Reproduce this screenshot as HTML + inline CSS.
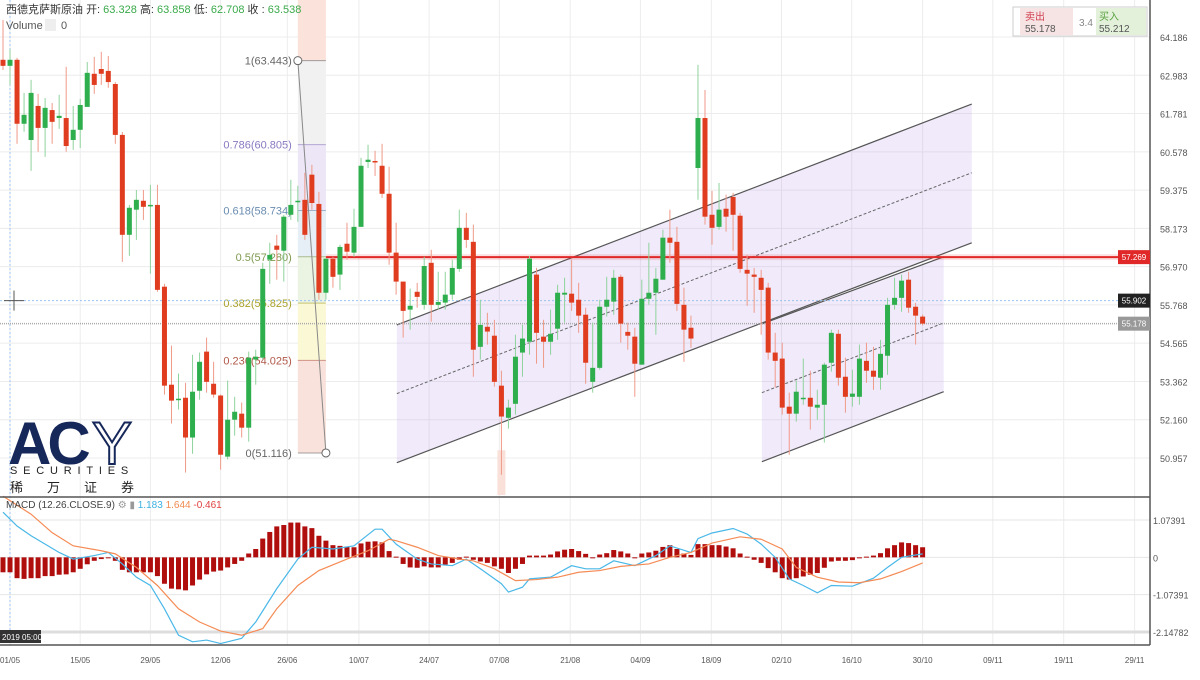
<!DOCTYPE html>
<html><head><meta charset="utf-8">
<style>
html,body{margin:0;padding:0;background:#fff;}
body{width:1200px;height:675px;overflow:hidden;font-family:"Liberation Sans","Noto Sans CJK SC",sans-serif;}
svg text{font-family:"Liberation Sans","Noto Sans CJK SC",sans-serif;}
</style></head>
<body>
<svg id="chart" width="1200" height="675" viewBox="0 0 1200 675" xmlns="http://www.w3.org/2000/svg">
<g id="grid"></g>
<g id="drawings"></g>
<g id="candles"></g>
<g id="macd"></g>
<g id="axes"></g>
<g>
 <text x="8" y="464" font-size="60" font-weight="bold" fill="#16275a" letter-spacing="-4">AC</text>
 <text x="92" y="464" font-size="60" fill="none" stroke="#16275a" stroke-width="2">Y</text>
 <text x="10" y="474" font-size="11" fill="#222" letter-spacing="5.8">SECURITIES</text>
 <text x="10" y="492" font-size="13" fill="#222" letter-spacing="24">稀万证券</text>
</g>
<g>
 <text x="6" y="13" font-size="11" fill="#333">西德克萨斯原油 <tspan fill="#333">开:</tspan><tspan fill="#3aaa4a"> 63.328 </tspan><tspan>高:</tspan><tspan fill="#3aaa4a"> 63.858 </tspan><tspan>低:</tspan><tspan fill="#3aaa4a"> 62.708 </tspan><tspan>收 :</tspan><tspan fill="#3aaa4a"> 63.538</tspan></text>
 <text x="6" y="29" font-size="11" fill="#555">Volume</text>
 <rect x="45" y="19" width="11" height="12" fill="#eee"/>
 <text x="61" y="29" font-size="11" fill="#555">0</text>
 <text x="6" y="508" font-size="10" fill="#444">MACD (12.26.CLOSE.9) <tspan fill="#999">⚙ ▮</tspan> <tspan fill="#3ab0e0">1.183</tspan> <tspan fill="#f08a50">1.644</tspan> <tspan fill="#e04040">-0.461</tspan></text>
</g>
<g>
 <rect x="1013" y="7" width="134" height="29" fill="#fff" stroke="#ccc"/>
 <rect x="1020" y="8" width="53" height="27" fill="#f6e4e4"/>
 <rect x="1096" y="8" width="50" height="27" fill="#e3f1da"/>
 <text x="1025" y="20" font-size="10" fill="#d04050">卖出</text>
 <text x="1025" y="32" font-size="10" fill="#555">55.178</text>
 <text x="1079" y="26" font-size="10" fill="#888">3.4</text>
 <text x="1099" y="20" font-size="10" fill="#5aa040">买入</text>
 <text x="1099" y="32" font-size="10" fill="#555">55.212</text>
</g>
</svg>
<script>
const priceTicks=[64.186,62.983,61.781,60.578,59.375,58.173,56.970,55.768,54.565,53.362,52.160,50.957];
const macdTicks=[1.07391,0,-1.07391,-2.14782];
const dateLabels=["01/05","15/05","29/05","12/06","26/06","10/07","24/07","07/08","21/08","04/09","18/09","02/10","16/10","30/10","09/11","19/11","29/11"];
const dateIdx=[1,11,21,31,40.5,50.7,60.7,70.7,80.8,90.8,100.9,110.9,120.9,131,141,151.1,161.2];
const opens=[63.47,63.28,63.47,61.46,60.95,62.02,61.33,61.89,61.64,61.64,60.95,61.27,61.99,63.03,63.18,63.12,62.71,61.11,57.97,58.76,59.04,58.88,58.91,56.34,53.26,52.79,52.85,51.60,53.07,54.30,53.29,52.92,51.00,52.16,52.35,51.91,54.05,54.11,57.19,57.63,57.47,58.60,59.01,59.07,59.86,58.94,56.15,57.22,56.72,57.69,57.41,58.22,60.26,60.29,60.14,59.26,57.41,56.50,55.62,56.18,55.77,57.09,55.77,55.84,56.09,56.90,58.19,57.75,54.45,55.08,54.80,53.23,52.22,52.66,54.27,54.61,56.72,54.77,54.61,55.02,56.09,56.12,55.93,55.46,53.35,53.79,55.71,55.87,56.65,54.92,54.77,53.89,55.96,56.15,56.56,57.88,57.75,55.77,55.05,60.07,61.64,58.60,58.22,58.79,59.16,58.57,56.87,56.72,56.62,56.31,54.27,54.08,52.57,52.35,52.82,52.85,52.54,52.63,53.95,54.86,53.51,52.88,52.88,54.01,53.70,53.48,54.17,55.77,55.99,56.56,55.71,55.40];
const highs=[64.72,63.81,63.53,62.43,62.84,62.40,62.27,62.11,62.37,63.25,62.02,62.24,63.40,63.56,63.72,63.59,62.77,61.20,58.91,59.38,59.38,59.54,59.54,56.43,54.49,53.61,53.32,54.20,54.27,54.74,53.98,52.95,53.39,52.88,52.70,54.30,54.36,57.09,57.72,57.97,58.60,59.70,59.51,59.92,60.17,59.32,57.22,57.28,57.66,58.35,58.79,60.39,60.80,60.61,60.83,60.11,58.35,56.46,56.28,56.46,57.28,57.50,56.81,56.81,57.19,58.76,58.66,58.29,55.93,55.52,55.30,53.70,52.79,54.83,55.14,57.31,56.93,55.30,55.62,56.40,56.62,57.19,56.46,55.68,55.21,55.93,56.65,56.87,56.72,55.21,55.05,56.56,57.72,56.93,58.13,58.76,58.22,56.31,55.43,63.31,62.52,59.35,59.60,59.23,59.29,58.66,57.34,56.93,56.87,56.46,54.89,54.58,53.01,53.39,54.08,53.70,53.10,53.95,54.99,54.99,54.11,53.73,54.52,54.58,54.45,54.67,55.99,56.62,56.72,56.81,55.83,55.46];
const lows=[63.15,62.68,60.83,61.21,59.98,60.58,60.42,60.83,61.30,60.58,60.64,60.70,61.99,62.40,62.68,62.59,60.83,57.12,57.31,57.81,58.44,56.75,56.18,52.95,52.04,52.48,50.50,51.09,52.79,53.01,52.85,50.59,50.91,51.66,51.60,51.47,53.26,54.05,56.43,56.56,56.50,58.44,58.38,57.81,58.76,55.93,55.93,56.31,56.24,57.19,57.28,58.22,60.07,59.82,59.13,57.03,56.09,54.74,54.99,55.68,55.62,55.24,55.62,55.62,55.93,56.81,57.56,53.51,54.05,54.52,53.20,50.43,51.88,52.32,53.51,54.20,53.92,53.79,54.20,54.67,55.21,55.58,54.89,53.29,53.01,53.73,55.40,55.46,54.58,54.36,52.88,53.89,55.77,54.83,56.56,57.09,55.58,53.98,54.42,59.07,58.29,57.66,58.13,58.07,57.47,56.78,55.74,55.52,54.83,54.05,53.17,52.32,51.06,52.10,52.63,51.85,52.16,51.44,53.67,53.23,52.38,52.57,52.63,53.32,53.10,53.10,53.57,55.62,55.55,55.52,54.52,55.12];
const closes=[63.28,63.47,61.46,61.74,62.43,61.33,61.96,61.52,61.71,60.76,61.27,62.05,63.06,62.68,63.03,62.77,61.11,57.97,58.82,59.07,58.85,58.91,56.24,53.23,52.76,52.82,51.60,53.04,53.98,53.35,52.95,51.06,52.16,52.41,51.91,54.11,54.14,56.90,57.34,57.50,58.54,58.91,59.04,57.97,58.97,56.15,57.22,56.65,57.59,57.44,58.22,60.14,60.33,60.26,59.26,57.41,56.50,55.58,55.74,56.02,56.99,55.77,55.86,56.09,56.93,58.19,57.81,54.36,55.14,54.93,53.35,52.26,52.54,54.14,54.71,57.22,54.89,54.61,54.86,56.15,56.15,55.84,55.43,53.95,53.79,55.71,55.93,56.62,55.18,54.80,53.92,55.96,56.15,56.59,57.88,57.72,55.80,54.99,54.71,61.64,58.54,58.19,58.76,58.54,58.60,56.90,56.75,56.65,56.24,54.27,54.01,52.54,52.35,53.04,52.85,52.57,52.63,53.89,54.89,53.48,52.88,52.98,54.08,53.70,53.51,54.23,55.77,55.99,56.53,55.68,55.43,55.18];
const histVals=[-0.43,-0.43,-0.60,-0.62,-0.60,-0.60,-0.54,-0.54,-0.50,-0.49,-0.43,-0.33,-0.20,-0.10,-0.05,-0.02,-0.10,-0.36,-0.43,-0.43,-0.43,-0.43,-0.54,-0.76,-0.90,-0.92,-0.95,-0.81,-0.64,-0.49,-0.41,-0.38,-0.29,-0.19,-0.10,0.11,0.24,0.54,0.73,0.89,0.93,1.00,1.00,0.89,0.84,0.62,0.48,0.35,0.33,0.31,0.29,0.40,0.45,0.46,0.43,0.18,0.02,-0.19,-0.29,-0.30,-0.26,-0.29,-0.29,-0.21,-0.16,-0.07,0.02,-0.07,-0.12,-0.16,-0.26,-0.33,-0.45,-0.33,-0.19,0.05,0.05,0.05,0.08,0.17,0.22,0.24,0.18,0.10,0.00,0.08,0.12,0.21,0.17,0.11,0.00,0.11,0.14,0.19,0.30,0.35,0.24,0.11,0.07,0.38,0.38,0.35,0.35,0.31,0.26,0.11,0.02,-0.07,-0.16,-0.31,-0.43,-0.60,-0.64,-0.60,-0.55,-0.50,-0.45,-0.30,-0.12,-0.10,-0.10,-0.08,0.00,0.02,0.05,0.12,0.26,0.35,0.43,0.41,0.35,0.29];
const macdIdx=[0,2,4,6,8,10,13,15,17,19,21,23,25,27,29,31,34,36,39,42,44,47,50,53,54,56,59,61,64,66,68,71,72,74,75,78,81,83,85,87,90,93,95,98,99,101,104,106,108,110,112,114,116,118,121,124,126,128,131];
const macdVals=[1.30,0.90,0.62,0.38,0.14,-0.05,0.05,0.14,-0.19,-0.57,-0.81,-1.48,-2.24,-2.43,-2.38,-2.48,-2.33,-1.86,-0.90,-0.05,0.29,0.24,0.33,0.81,0.81,0.38,-0.05,-0.19,-0.24,-0.05,-0.33,-0.76,-1.00,-0.86,-0.62,-0.57,-0.24,-0.33,-0.33,-0.10,-0.24,0.05,0.33,0.14,0.54,0.70,0.83,0.67,0.38,0.00,-0.62,-0.81,-1.02,-0.81,-0.83,-0.60,-0.29,0.00,0.10];
const signalIdx=[0,4,7,10,14,16,19,22,25,28,31,34,37,39,42,45,49,52,55,56,59,62,65,67,70,73,76,79,82,85,88,92,95,98,101,105,108,111,113,116,119,122,125,128,131];
const signalVals=[1.76,1.24,0.71,0.33,0.19,0.10,-0.29,-0.81,-1.48,-1.86,-2.12,-2.24,-2.05,-1.48,-0.81,-0.38,-0.05,0.19,0.52,0.48,0.29,0.05,-0.05,-0.10,-0.33,-0.67,-0.64,-0.57,-0.43,-0.38,-0.26,-0.19,0.00,0.14,0.41,0.59,0.52,0.24,-0.29,-0.57,-0.71,-0.73,-0.62,-0.41,-0.16];
const fibRatios=["1","0.786","0.618","0.5","0.382","0.236","0"];
const fibPrices=[63.443,60.805,58.734,57.280,55.825,54.025,51.116];
const fibColors=["#666","#8a78c0","#6a8cb0","#7e9a50","#aaa22a","#b05848","#666"];
const fibFills=["#f1f1f1","#ece6f6","#e6eef6","#ebf3e2","#fbf8d6","#f9e2dc"];
const ch1Idx=[56.1,138.0], ch1Upper=[55.14,62.08], ch1Mid=[52.98,59.92], ch1Lower=[50.81,57.72];
const ch2Idx=[108.1,134.0], ch2Upper=[55.17,57.28], ch2Mid=[53.01,55.20], ch2Lower=[50.84,53.04];
const resistancePrice=57.269, crossPrice=55.902, lastPrice=55.178;

const NS="http://www.w3.org/2000/svg";
const yP=p=>458+(p-50.957)*(37-458)/(64.186-50.957);
const yM=v=>632+(v+2.14782)*(520-632)/(1.07391+2.14782);
const xI=i=>3+i*7.02;
function mk(parent,tag,attrs){const e=document.createElementNS(NS,tag);for(const k in attrs)e.setAttribute(k,attrs[k]);parent.appendChild(e);return e;}
const G=id=>document.getElementById(id);
const grid=G('grid'),drw=G('drawings'),cg=G('candles'),mg=G('macd'),ax=G('axes');

priceTicks.forEach(t=>{const l=mk(grid,'line',{x1:0,x2:1150,y1:yP(t),y2:yP(t),stroke:'#ececec'});

});
dateIdx.forEach(i=>{const l=mk(grid,'line',{x1:xI(i),x2:xI(i),y1:0,y2:645,stroke:'#ececec'});

});
macdTicks.forEach(t=>{const l=mk(grid,'line',{x1:0,x2:1150,y1:yM(t),y2:yM(t),stroke:t===macdTicks[3]?'#ddd':'#e6e6e6','stroke-width':t===macdTicks[3]?3:1});

});

const fx1=xI(42),fx2=xI(46);
let z=mk(drw,'rect',{x:fx1,y:0,width:fx2-fx1,height:yP(fibPrices[0]),fill:'#fbe3dc'});


for(let k=0;k<6;k++){const r=mk(drw,'rect',{x:fx1,y:yP(fibPrices[k]),width:fx2-fx1,height:yP(fibPrices[k+1])-yP(fibPrices[k]),fill:fibFills[k]});

}
fibPrices.forEach((p,k)=>{const l=mk(drw,'line',{x1:fx1,x2:fx2,y1:yP(p),y2:yP(p),stroke:fibColors[k],'stroke-opacity':0.6});


const t=mk(drw,'text',{x:fx1-6,y:yP(p)+4,'font-size':11,fill:fibColors[k],'text-anchor':'end'});t.textContent=fibRatios[k]+'('+p.toFixed(3)+')';

});
let pk=mk(drw,'rect',{x:xI(71)-4,y:yP(51.20),width:8,height:495-yP(51.20),fill:'#f9e0d8'});



function channel(idx,up,mid,lo,name){
 const [a,b]=idx;
 const poly=mk(drw,'polygon',{points:`${xI(a)},${yP(up[0])} ${xI(b)},${yP(up[1])} ${xI(b)},${yP(lo[1])} ${xI(a)},${yP(lo[0])}`,fill:'rgba(170,140,225,0.18)'});
 
 
 [[up,'upper'],[lo,'lower']].forEach(([arr,n])=>{const l=mk(drw,'line',{x1:xI(a),y1:yP(arr[0]),x2:xI(b),y2:yP(arr[1]),stroke:'#555','stroke-width':1.2});
 
 });
 const m=mk(drw,'line',{x1:xI(a),y1:yP(mid[0]),x2:xI(b),y2:yP(mid[1]),stroke:'#666','stroke-dasharray':'3,2'});
 
 
}
channel(ch1Idx,ch1Upper,ch1Mid,ch1Lower,'channel-1');
channel(ch2Idx,ch2Upper,ch2Mid,ch2Lower,'channel-2');

let rl=mk(drw,'rect',{x:xI(46),y:yP(resistancePrice)-3,width:1150-xI(46),height:6,fill:'rgba(230,60,60,0.15)'});


let rline=mk(drw,'line',{x1:xI(46),x2:1150,y1:yP(resistancePrice),y2:yP(resistancePrice),stroke:'#e02828','stroke-width':2});


let cl=mk(drw,'line',{x1:0,x2:1150,y1:yP(crossPrice),y2:yP(crossPrice),stroke:'#9cc4f0','stroke-dasharray':'2,2'});


let cv=mk(drw,'line',{x1:10,x2:10,y1:0,y2:645,stroke:'#9cc4f0','stroke-dasharray':'2,2'});


let ll=mk(drw,'line',{x1:0,x2:1150,y1:yP(lastPrice),y2:yP(lastPrice),stroke:'#aaa','stroke-width':1.5,'stroke-dasharray':'1,1'});


let ch=mk(drw,'path',{d:`M4 ${yP(crossPrice)}H24M14 ${yP(crossPrice)-10}V${yP(crossPrice)+10}`,stroke:'#555','stroke-width':1});



let fl=mk(drw,'line',{x1:fx1,y1:yP(fibPrices[0]),x2:fx2,y2:yP(fibPrices[6]),stroke:'#888'});


[[fx1,fibPrices[0]],[fx2,fibPrices[6]]].forEach(([x,p])=>{const c=mk(drw,'circle',{cx:x,cy:yP(p),r:4,fill:'#fff',stroke:'#666'});

});

closes.forEach((c,i)=>{
 const o=opens[i],up=c>=o,col=up?'#2fae4e':'#e03c1f',x=xI(i);
 const w=mk(cg,'line',{x1:x,x2:x,y1:yP(highs[i]),y2:yP(lows[i]),stroke:up?'#8fd39c':'#f09a88','stroke-width':1});
 
 
 const t=Math.min(yP(o),yP(c)),h=Math.max(1.5,Math.abs(yP(o)-yP(c)));
 const b=mk(cg,'rect',{x:x-2.5,y:t,width:5,height:h,fill:col});
 
 
});

histVals.forEach((v,i)=>{const y0=yM(0),y1=yM(v);
 const b=mk(mg,'rect',{x:xI(i)-2.5,y:Math.min(y0,y1),width:5,height:Math.max(1,Math.abs(y1-y0)),fill:'#b00d0d'});
 
 });
let mp=mk(mg,'polyline',{points:macdIdx.map((i,k)=>xI(i)+','+yM(macdVals[k])).join(' '),fill:'none',stroke:'#4ab8e8','stroke-width':1.2});


let sp=mk(mg,'polyline',{points:signalIdx.map((i,k)=>xI(i)+','+yM(signalVals[k])).join(' '),fill:'none',stroke:'#f58b55','stroke-width':1.2});



[[0,1150,497,497],[0,1150,645,645],[1150,1150,0,645]].forEach(([x1,x2,y1,y2])=>{const l=mk(ax,'line',{x1,x2,y1,y2,stroke:'#555','stroke-width':1.5});

});
priceTicks.forEach(t=>{const e=mk(ax,'text',{x:1160,y:yP(t)+4,'font-size':9,fill:'#555'});e.textContent=t.toFixed(3);

});
macdTicks.forEach(t=>{const e=mk(ax,'text',{x:1153,y:yM(t)+4,'font-size':9,fill:'#555'});e.textContent=t===0?'0':t.toFixed(5);

});
dateLabels.forEach((d,k)=>{const e=mk(ax,'text',{x:xI(dateIdx[k]),y:663,'font-size':8,fill:'#555','text-anchor':'middle'});e.textContent=d;

});
[[resistancePrice,'#e02828'],[crossPrice,'#222'],[lastPrice,'#999']].forEach(([p,c])=>{
 const r=mk(ax,'rect',{x:1118,y:yP(p)-7,width:32,height:14,fill:c});
 
 
 const t=mk(ax,'text',{x:1134,y:yP(p)+3,'font-size':8,fill:'#fff','text-anchor':'middle'});t.textContent=p.toFixed(3);
 
 });
let tt=mk(ax,'rect',{x:0,y:630,width:41,height:13,fill:'#333'});


let tx=mk(ax,'text',{x:2,y:640,'font-size':8,fill:'#fff'});tx.textContent='2019  05:00';


</script>
</body></html>
